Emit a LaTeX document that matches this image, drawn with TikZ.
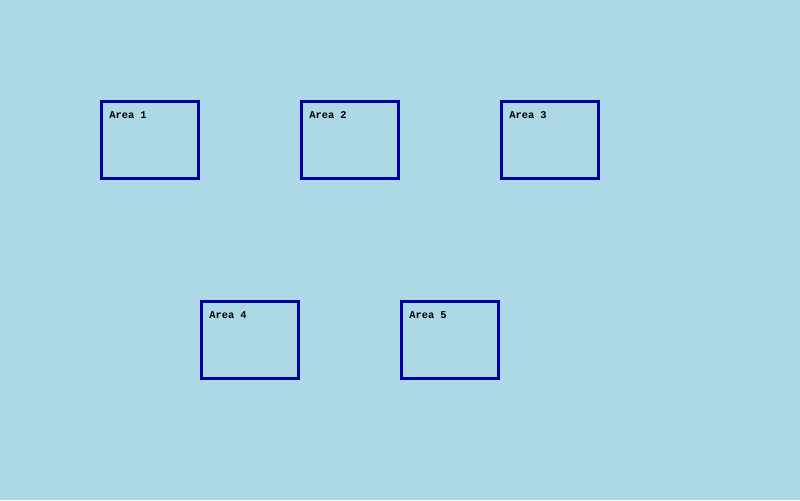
\documentclass[tikz,border=0pt]{standalone}
\usepackage{fontspec}
\newfontfamily\areamono{Liberation Mono}
\usepackage{tikz}
\usetikzlibrary{positioning, calc}
\definecolor{areabg}{HTML}{ADD8E6}
\definecolor{areaedge}{HTML}{0000A0}

\begin{document}
\begin{tikzpicture}[
  x=0.025cm, y=-0.025cm,
  areabox/.style={draw=areaedge, line width=2.13pt, minimum width=2.425cm,
                  minimum height=1.925cm, inner sep=0pt},
  arealbl/.style={anchor=base west, inner sep=0pt,
                  font=\areamono\bfseries\fontsize{7.4pt}{8pt}\selectfont}
]

% ---------------------------------------------- the canvas
\fill[areabg] (0,0) rectangle (800,500);
\useasboundingbox (0,0) rectangle (800,500);

% ---------------------------------------------- the upper row
\node[areabox] (area1) at (150,140) {};
\node[areabox] (area2) at (350,140) {};
\node[areabox] (area3) at (550,140) {};

% ---------------------------------------------- the lower row
\node[areabox] (area4) at (250,340) {};
\node[areabox] (area5) at (450,340) {};

% ---------------------------------------------- the labels
\foreach \n in {1,...,5}
  \node[arealbl] (lbl\n) at ($(area\n.north west)+(9,19)$) {Area \n};

\end{tikzpicture}
\end{document}
